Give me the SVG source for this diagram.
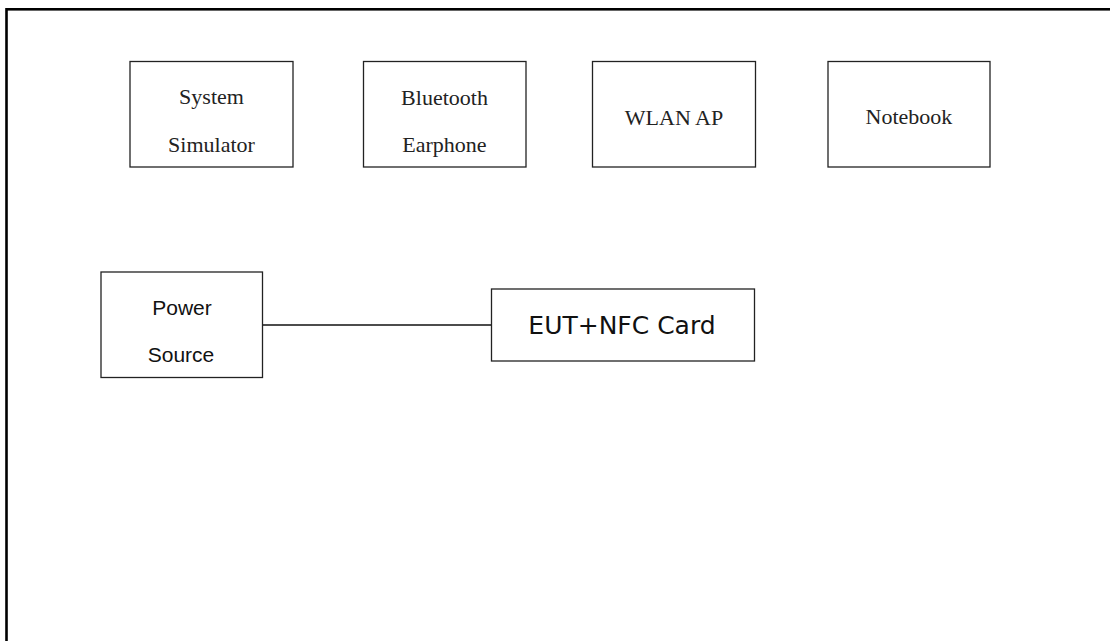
<svg xmlns="http://www.w3.org/2000/svg" width="1110" height="641" viewBox="0 0 1110 641">
<style>
.frame{fill:none;stroke:#000;stroke-width:2.6}
.box{fill:#fff;stroke:#222;stroke-width:1.3}
.serif{font-family:"Liberation Serif","Times New Roman",serif;font-size:22px;fill:#222;text-anchor:middle}
.sans{font-family:"Liberation Sans",Arial,sans-serif;font-size:21px;fill:#111;text-anchor:middle}
.eut{font-family:"DejaVu Sans","Noto Sans",sans-serif;font-size:25px;fill:#111;text-anchor:middle}
.wire{stroke:#111;stroke-width:1.5;fill:none}
</style>
<rect width="1110" height="641" fill="#fff"/>
<rect class="frame" x="6.5" y="9.3" width="1130" height="660"/>
<g id="connectors">
<line class="wire" x1="262" y1="325" x2="491.5" y2="325"/>
</g>
<g id="system-simulator">
<rect class="box" x="130" y="61.5" width="163" height="105.5"/>
<text class="serif" x="211.5" y="104">System</text>
<text class="serif" x="211.5" y="152">Simulator</text>
</g>
<g id="bluetooth-earphone">
<rect class="box" x="363.5" y="61.5" width="162.5" height="105.5"/>
<text class="serif" x="444.5" y="104.5">Bluetooth</text>
<text class="serif" x="444.5" y="152">Earphone</text>
</g>
<g id="wlan-ap">
<rect class="box" x="592.5" y="61.5" width="163" height="105.5"/>
<text class="serif" x="674" y="125">WLAN AP</text>
</g>
<g id="notebook">
<rect class="box" x="828" y="61.5" width="162" height="105.5"/>
<text class="serif" x="909" y="123.5">Notebook</text>
</g>
<g id="power-source">
<rect class="box" x="101" y="272" width="161.5" height="105.5"/>
<text class="sans" x="182" y="315">Power</text>
<text class="sans" x="181" y="362">Source</text>
</g>
<g id="eut-nfc-card">
<rect class="box" x="491.5" y="289" width="263" height="72"/>
<text class="eut" x="622" y="334.3">EUT+NFC Card</text>
</g>
</svg>
